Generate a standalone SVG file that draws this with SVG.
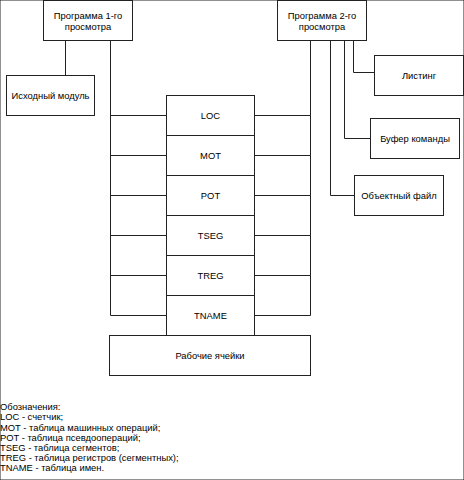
<svg xmlns="http://www.w3.org/2000/svg" width="464" height="480" viewBox="0 0 464 480">
<style>
rect{fill:#fff;stroke:#222;stroke-width:1}
.c line,.c polyline{fill:none;stroke:#222;stroke-width:1}
text{font-family:"Liberation Sans",Arial,sans-serif;font-size:9.4px;fill:#000}
.m{text-anchor:middle;dominant-baseline:central}
</style>
<rect width="464" height="480" fill="#fff" stroke="none"/>
<g class="c" id="connectors">
<line x1="65.5" y1="40" x2="65.5" y2="75"/>
<line x1="110.5" y1="40" x2="110.5" y2="315.5"/>
<line x1="110.5" y1="115.5" x2="166" y2="115.5"/>
<line x1="110.5" y1="155.5" x2="166" y2="155.5"/>
<line x1="110.5" y1="195.5" x2="166" y2="195.5"/>
<line x1="110.5" y1="235.5" x2="166" y2="235.5"/>
<line x1="110.5" y1="275.5" x2="166" y2="275.5"/>
<line x1="110.5" y1="315.5" x2="166" y2="315.5"/>
<line x1="310.5" y1="40" x2="310.5" y2="315.5"/>
<line x1="254" y1="115.5" x2="310.5" y2="115.5"/>
<line x1="254" y1="155.5" x2="310.5" y2="155.5"/>
<line x1="254" y1="195.5" x2="310.5" y2="195.5"/>
<line x1="254" y1="235.5" x2="310.5" y2="235.5"/>
<line x1="254" y1="275.5" x2="310.5" y2="275.5"/>
<line x1="254" y1="315.5" x2="310.5" y2="315.5"/>
<polyline points="353.5,40 353.5,72.5 374,72.5"/>
<polyline points="344.5,40 344.5,138.5 370,138.5"/>
<polyline points="330.5,40 330.5,195.5 354,195.5"/>
</g>
<g id="pass1"><rect x="43.5" y="0.5" width="89" height="40"/><text class="m" x="88" y="15">Программа 1-го</text><text class="m" x="88" y="26.5">просмотра</text></g>
<g id="source"><rect x="6.5" y="75.5" width="88" height="40"/><text class="m" x="50.5" y="95.5">Исходный модуль</text></g>
<g id="pass2"><rect x="277.5" y="0.5" width="89" height="40"/><text class="m" x="322" y="15">Программа 2-го</text><text class="m" x="322" y="26.5">просмотра</text></g>
<g id="listing"><rect x="374.5" y="55.5" width="89" height="40"/><text class="m" x="419" y="75.5">Листинг</text></g>
<g id="buffer"><rect x="370.5" y="118.5" width="89" height="40"/><text class="m" x="415" y="138.5">Буфер команды</text></g>
<g id="objfile"><rect x="354.5" y="175.5" width="89" height="40"/><text class="m" x="399" y="195.5">Объектный файл</text></g>
<g id="loc"><rect x="166.5" y="95.5" width="88" height="40"/><text class="m" x="210.5" y="115.5">LOC</text></g>
<g id="mot"><rect x="166.5" y="135.5" width="88" height="40"/><text class="m" x="210.5" y="155.5">MOT</text></g>
<g id="pot"><rect x="166.5" y="175.5" width="88" height="40"/><text class="m" x="210.5" y="195.5">POT</text></g>
<g id="tseg"><rect x="166.5" y="215.5" width="88" height="40"/><text class="m" x="210.5" y="235.5">TSEG</text></g>
<g id="treg"><rect x="166.5" y="255.5" width="88" height="40"/><text class="m" x="210.5" y="275.5">TREG</text></g>
<g id="tname"><rect x="166.5" y="295.5" width="88" height="40"/><text class="m" x="210.5" y="315.5">TNAME</text></g>
<g id="work"><rect x="109.5" y="335.5" width="201" height="40"/><text class="m" x="210" y="355.5">Рабочие ячейки</text></g>
<g id="legend">
<text x="0" y="409.5">Обозначения:</text>
<text x="0" y="420">LOC - счетчик;</text>
<text x="0" y="430.5">MOT - таблица машинных операций;</text>
<text x="0" y="441">POT - таблица псевдоопераций;</text>
<text x="0" y="451">TSEG - таблица сегментов;</text>
<text x="0" y="461">TREG - таблица регистров (сегментных);</text>
<text x="0" y="471">TNAME - таблица имен.</text>
</g>
</svg>
